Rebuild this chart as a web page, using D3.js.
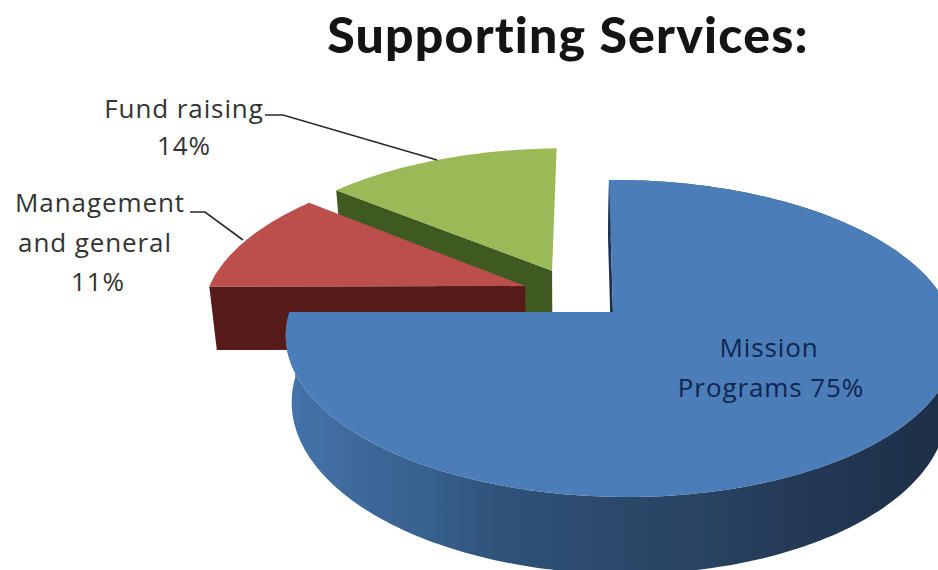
<!DOCTYPE html>
<html>
<head>
<meta charset="utf-8">
<script src="https://cdn.jsdelivr.net/npm/d3@7/dist/d3.min.js"></script>
<style>
html,body{margin:0;padding:0;background:#fff;overflow:hidden}
svg{display:block}
</style>
</head>
<body>
<svg id="chart" width="938" height="570"></svg>
<script>
// Budget shares, clockwise from twelve o'clock
const categories = ["Mission Programs", "Management and general", "Fund raising"];
const shares = [75, 11, 14];
const faceColors = ["#4b7db9", "#bc4e4b", "#9bb956"];
const wallColors = ["#2d4d74", "#561b19", "#3f5a20"];
const titleText = "Supporting Services:";

const width = 938, height = 570;
const svg = d3.select("#chart");

// Perspective view of the unit disc: upper rim and lower rim of the cylinder
const topRim = {x0: 613, y0: 312, r: 330, s: 154, tilt: 4.7, k: 0.1672, j: 0.02};
const lowRim = {x0: 612, y0: 377, r: 323, s: 164, tilt: 4.7, k: 0.1672, j: 0.02};
function project(rim, u, v) {
  const w = 1 - rim.k * v - rim.j * u;
  return [rim.x0 + (rim.r * u + rim.tilt * v) / w, rim.y0 + rim.s * v / w];
}

// How far each slice is pulled from the centre, and its radius, in disc units
const explode = [[0, 0], [-0.273, -0.174], [-0.19, -0.282]];
const radius = [1, 1.015, 1.015];

const arcs = d3.pie().sort(null).startAngle(0).endAngle(2 * Math.PI)(shares);
const line = d3.line();

function rimPoints(rim, i, a0, a1) {
  const [ox, oy] = explode[i];
  const n = Math.max(2, Math.ceil(Math.abs(a1 - a0) / 0.02));
  return d3.range(n + 1).map(q => {
    const a = a0 + (a1 - a0) * q / n;
    return project(rim, ox + radius[i] * Math.sin(a), oy - radius[i] * Math.cos(a));
  });
}
const apex = (rim, i) => project(rim, explode[i][0], explode[i][1]);

// Horizontal shading around the blue outer wall
const wallStops = [
  [290, "#4473aa"], [350, "#3f6a9d"], [430, "#38608d"], [500, "#2f5279"],
  [600, "#2c4a6d"], [700, "#294362"], [800, "#233a56"], [938, "#1c2f46"]
];
const stopOffset = d3.scaleLinear().domain([290, 938]).range([0, 1]);
const grad = svg.append("defs").append("linearGradient")
  .attr("id", "wallShade").attr("gradientUnits", "userSpaceOnUse")
  .attr("x1", 290).attr("x2", 938).attr("y1", 0).attr("y2", 0);
grad.selectAll("stop").data(wallStops).join("stop")
  .attr("offset", d => stopOffset(d[0]))
  .attr("stop-color", d => d[1]);

function drawSlice(i) {
  const {startAngle: a0, endAngle: a1} = arcs[i];
  const g = svg.append("g").attr("class", "slice").attr("aria-label", categories[i]);

  // Curved outer wall, only the large slice shows one
  if (i === 0) {
    g.append("path")
      .attr("d", line([...rimPoints(topRim, i, a0, a1), ...rimPoints(lowRim, i, a0, a1).reverse()]) + "Z")
      .attr("fill", "url(#wallShade)");
  }

  // Cut wall facing the viewer
  const outerTop = rimPoints(topRim, i, a0, a0 + 0.04)[0];
  const outerLow = rimPoints(lowRim, i, a0, a0 + 0.04)[0];
  g.append("path")
    .attr("d", line([outerTop, apex(topRim, i), apex(lowRim, i), outerLow]) + "Z")
    .attr("fill", i === 0 ? "#1c3350" : wallColors[i]);

  // Top face
  g.append("path")
    .attr("d", line([apex(topRim, i), ...rimPoints(topRim, i, a0, a1)]) + "Z")
    .attr("fill", faceColors[i]);
}

// Back slices first so the large slice sits in front
drawSlice(2);
drawSlice(1);
drawSlice(0);

// Leader lines
const leaderFund = [[265, 115], [283, 115], [437, 160]];
const leaderMgmt = [[190, 212], [205, 212], [243, 240]];
svg.selectAll("path.leader").data([leaderFund, leaderMgmt]).join("path")
  .attr("class", "leader")
  .attr("d", line)
  .attr("fill", "none")
  .attr("stroke", "#2a2a2a")
  .attr("stroke-width", 1.6);

// Title and labels
svg.append("text").attr("x", 568).attr("y", 53).attr("text-anchor", "middle")
  .attr("font-family", "Lato, 'Open Sans', sans-serif")
  .attr("font-size", 50).attr("font-weight", 900).attr("letter-spacing", 1.2)
  .attr("fill", "#141414").text(titleText);

const labels = [
  {t: "Fund raising", x: 184, y: 118, c: "#333"},
  {t: shares[2] + "%", x: 184, y: 155, c: "#333"},
  {t: "Management", x: 100, y: 212, c: "#333"},
  {t: "and general", x: 95, y: 252, c: "#333"},
  {t: shares[1] + "%", x: 98, y: 291, c: "#333"},
  {t: "Mission", x: 769, y: 357, c: "#10254f"},
  {t: "Programs " + shares[0] + "%", x: 771, y: 397, c: "#10254f"}
];
svg.selectAll("text.label").data(labels).join("text")
  .attr("class", "label")
  .attr("x", d => d.x).attr("y", d => d.y)
  .attr("text-anchor", "middle")
  .attr("font-family", "'Open Sans', sans-serif")
  .attr("font-size", 26)
  .attr("letter-spacing", 0.9)
  .attr("fill", d => d.c)
  .text(d => d.t);
</script>
</body>
</html>
